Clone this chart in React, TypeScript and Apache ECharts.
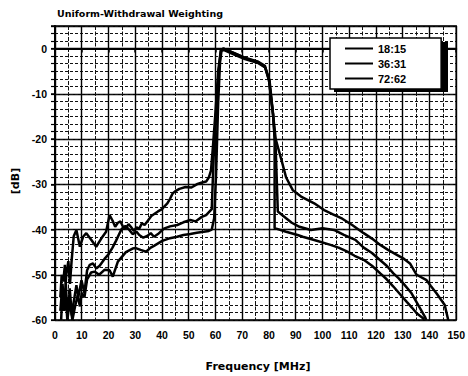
import React, { useEffect, useRef } from "react";
import * as echarts from "echarts";

const seriesNames = ["18:15", "36:31", "72:62"];

const curve18: number[][] = [
  [2, -58], [2.8, -52], [3.5, -57], [4.2, -50], [5, -47], [5.6, -52], [6.2, -47],
  [7, -41.5], [8, -40.1], [9.3, -43.8], [10.5, -41.6], [11.7, -40.8], [13.6, -42.3],
  [15.4, -43.8], [17.3, -42], [19.1, -40.5], [20.4, -36.8], [21.5, -38], [22.5, -39.4],
  [23.5, -38.5], [24.5, -38.2], [25.5, -39.5], [26.5, -39.7], [27.5, -38.8], [28.5, -39.5],
  [29.5, -40.3], [30.5, -39.5], [31.5, -39.8], [32.5, -38.6], [33.5, -39], [34.5, -38.2],
  [36, -37], [37.5, -36.4], [38.5, -36], [40, -35.5], [41, -34.8], [42, -34.2], [43, -33.2],
  [44, -32], [45, -31.5], [46.5, -31], [48.8, -30.6], [51, -30.7], [53, -30], [55, -29.6],
  [56.5, -29.4], [57.5, -28.5], [58.3, -27], [59, -22], [60, -14], [61, -5], [62, -0.3],
  [63, 0], [67, -1], [71, -2], [76, -2.9], [78.5, -3.8], [80, -7], [81.5, -14.5],
  [82.5, -20], [84.6, -24.5], [86.4, -28.5], [88.9, -31.3], [92, -32.7], [96.9, -34.2],
  [100.6, -35.7], [103.7, -36.6], [107.4, -37.6], [111.1, -39], [115.4, -40.8],
  [118.5, -42], [121.6, -43.4], [124.5, -44.5], [127.8, -45.6], [130.5, -46.5],
  [132.7, -47.5], [135.2, -50], [138.9, -51.2], [140.5, -52.5], [142.6, -54.1],
  [145.7, -56.7], [147, -60],
];

const curve36: number[][] = [
  [2, -55], [2.5, -50], [3.1, -51.5], [3.7, -47.8], [4.3, -55], [5, -58], [5.5, -53],
  [6.3, -59], [7, -56], [8, -52.3], [8.7, -55], [9.9, -51.2], [11, -54], [12, -49],
  [13, -47.8], [14.2, -47.5], [15.4, -48.6], [16.7, -48], [18.5, -46.5], [20, -45.5],
  [21.5, -44], [22.8, -42.5], [24, -41], [25, -39.8], [26.3, -39.2], [27.8, -40.1],
  [29, -41], [30.5, -40.5], [31.5, -41.2], [33, -41.8], [34.5, -41.4], [35.8, -40.8],
  [37, -41.6], [38.5, -41], [40.7, -39.8], [43, -39.3], [45.7, -39], [48, -38.4],
  [50.6, -37.9], [52.5, -38.2], [54.9, -37.2], [56.5, -36.8], [58.6, -35.5], [59.3, -24],
  [60.3, -14], [61.2, -5], [62, -0.5], [63, -0.3], [67, -1.3], [71, -2.3], [76, -3.2],
  [78.5, -4.1], [80, -7], [81.5, -14.5], [82.5, -22], [83.3, -36], [86.4, -37.5],
  [88.5, -38.5], [91.4, -39.4], [95.7, -40.1], [100, -39.7], [104.3, -40.1], [108, -41.2],
  [112.3, -42.3], [115.4, -44], [118.5, -45.2], [121.6, -46.8], [124, -48], [126.5, -49.7],
  [128.5, -50.8], [130.2, -51.9], [133.3, -54.1], [135.8, -56.7], [138.3, -59.3],
  [138.8, -60],
];

const curve72: number[][] = [
  [2.3, -60], [2.8, -53], [3.4, -58], [4, -54], [4.6, -60], [5.5, -56], [6.5, -60],
  [7.5, -57], [8.5, -54.5], [9.3, -57], [10, -54], [11, -55], [12, -51], [13.5, -49.5],
  [14.8, -49.3], [16.5, -50], [18.5, -48.9], [20.4, -49], [21.6, -50.4], [23.5, -47.1],
  [26.5, -45], [29, -44.2], [30.2, -44.1], [32, -44.5], [34, -44.9], [35.8, -44],
  [37, -43.6], [40.1, -42.5], [42.5, -42], [45.7, -41.6], [48, -41.2], [50.6, -41],
  [53, -40.7], [55.6, -40.5], [57.5, -40.3], [58.6, -40], [59.5, -37.5], [60.2, -28],
  [61, -12], [61.7, -3], [62.3, -0.2], [63, 0], [67, -1], [71, -2.1], [76, -3],
  [78.6, -4.2], [80.2, -7], [81.5, -14.3], [82.1, -20], [82.1, -39.7], [86.4, -40.5],
  [90.7, -41.2], [92.6, -41.6], [96.9, -42.3], [103, -43.4], [106, -44], [109.3, -44.9],
  [112, -45.8], [115.4, -46.7], [118.5, -48], [121.6, -49.7], [124, -51], [126.5, -52.6],
  [129, -54.3], [131.5, -56], [133.5, -57.3], [135.2, -58.5], [137.6, -59.6], [138, -60],
];

const curves = [curve18, curve36, curve72];

const titleText = "Uniform-Withdrawal Weighting";
const xName = "Frequency [MHz]";
const yName = "[dB]";

const FONT = "'Liberation Sans', Arial, sans-serif";
const HEAVY = "'DejaVu Sans', Verdana, sans-serif";

export default function App() {
  const ref = useRef<HTMLDivElement>(null);
  useEffect(() => {
    if (!ref.current) return;
    const chart = echarts.init(ref.current, undefined, { renderer: "svg" });
    const labelStyle = { color: "#000", fontFamily: FONT, fontWeight: "bold" as const, fontSize: 10.5 };
    chart.setOption({
      animation: false,
      backgroundColor: "#fff",
      grid: { left: 55, right: 8, top: 26, bottom: 56, show: true, borderColor: "#000", borderWidth: 1.5, backgroundColor: "transparent" },
      graphic: [
        { type: "text", left: 57, top: 8, z: 10, style: { text: titleText, fill: "#000", font: `bold 9.5px ${HEAVY}` } },
        { type: "text", x: 15, y: 181, rotation: Math.PI / 2, z: 10, style: { text: yName, fill: "#000", font: `bold 11px ${HEAVY}`, textAlign: "center", textVerticalAlign: "middle" } },
        { type: "text", x: 258, y: 366, z: 10, style: { text: xName, fill: "#000", font: `bold 11px ${HEAVY}`, textAlign: "center", textVerticalAlign: "middle" } },
        { type: "rect", shape: { x: 334, y: 42, width: 114, height: 50 }, z: 3, style: { fill: "#000" } },
      ],
      legend: {
        data: seriesNames,
        orient: "vertical",
        left: 330,
        top: 38,
        z: 6,
        padding: [4, 35, 4, 15],
        itemGap: 2,
        itemWidth: 28,
        itemHeight: 2,
        itemTextGap: 8,
        icon: "rect",
        backgroundColor: "#fff",
        borderColor: "#000",
        borderWidth: 1.5,
        textStyle: { color: "#000", fontFamily: FONT, fontWeight: "bold", fontSize: 11, lineHeight: 13 },
      },
      xAxis: {
        type: "value",
        min: 0,
        max: 150,
        interval: 10,
        axisLine: { show: true, lineStyle: { color: "#000", width: 2 } },
        axisTick: { show: true, length: 4, lineStyle: { color: "#000", width: 1.5 } },
        minorTick: { show: true, splitNumber: 2, length: 3, lineStyle: { color: "#000" } },
        axisLabel: { ...labelStyle, margin: 9 },
        splitLine: { show: true, lineStyle: { color: "#000", width: 1.4 } },
        minorSplitLine: { show: true, lineStyle: { color: "#111", width: 1, type: [4, 1.5] } },
      },
      yAxis: [
        {
          type: "value",
          min: -60,
          max: 5,
          interval: 10,
          axisLine: { show: true, onZero: false, lineStyle: { color: "#000", width: 2 } },
          axisTick: { show: true, length: 4, lineStyle: { color: "#000", width: 1.5 } },
          axisLabel: {
            ...labelStyle,
            margin: 8,
            formatter: (v: number) => (v > 0.01 ? "" : String(Math.round(v))),
          },
          splitLine: { show: true, lineStyle: { color: "#000", width: 1.4 } },
        },
        {
          type: "value",
          min: -60,
          max: 5,
          interval: 5 / 3,
          position: "left",
          axisLine: { show: false },
          axisTick: { show: true, length: 4, lineStyle: { color: "#000", width: 1.2 } },
          axisLabel: { show: false },
          splitLine: { show: true, lineStyle: { color: "#111", width: 1, type: [3, 2] } },
        },
      ],
      series: curves.map((c, i) => ({
        name: seriesNames[i],
        type: "line",
        data: c,
        yAxisIndex: 0,
        showSymbol: false,
        symbol: "none",
        z: 3,
        lineStyle: { color: "#000", width: 2.5 },
        itemStyle: { color: "#000" },
      })),
    });
    return () => chart.dispose();
  }, []);
  return <div ref={ref} style={{ position: "fixed", left: 0, top: 0, width: 468, height: 376 }} />;
}
